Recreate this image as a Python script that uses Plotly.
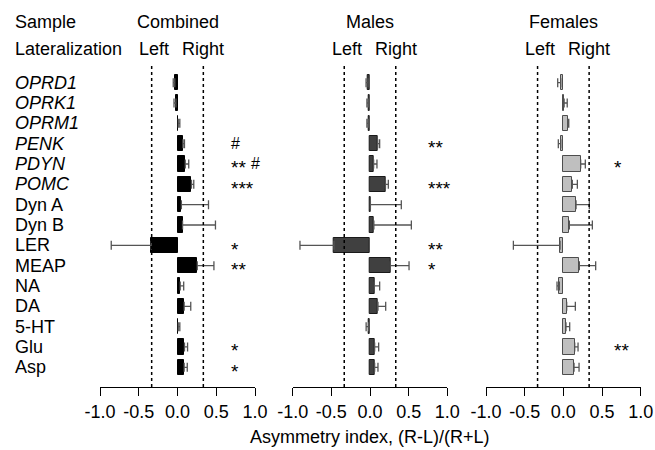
import plotly.graph_objects as go

categories = ["OPRD1", "OPRK1", "OPRM1", "PENK", "PDYN", "POMC", "Dyn A", "Dyn B",
              "LER", "MEAP", "NA", "DA", "5-HT", "Glu", "Asp"]
italic_cats = ["OPRD1", "OPRK1", "OPRM1", "PENK", "PDYN", "POMC"]

combined_val = [-0.035, -0.02, 0.01, 0.07, 0.10, 0.18, 0.05, 0.065, -0.34, 0.255, 0.035, 0.086, 0.01, 0.09, 0.086]
combined_err = [0.02, 0.025, 0.02, 0.02, 0.045, 0.03, 0.35, 0.425, 0.515, 0.215, 0.045, 0.085, 0.02, 0.04, 0.04]
males_val = [-0.026, -0.02, -0.02, 0.10, 0.047, 0.20, 0.005, 0.05, -0.466, 0.263, 0.056, 0.103, -0.017, 0.06, 0.06]
males_err = [0.025, 0.02, 0.02, 0.025, 0.043, 0.037, 0.40, 0.485, 0.44, 0.242, 0.069, 0.10, 0.033, 0.052, 0.043]
females_val = [-0.034, 0.01, 0.056, -0.034, 0.224, 0.116, 0.164, 0.078, -0.043, 0.207, -0.052, 0.043, 0.034, 0.147, 0.138]
females_err = [0.039, 0.04, 0.014, 0.031, 0.06, 0.065, 0.172, 0.297, 0.603, 0.211, 0.03, 0.112, 0.048, 0.043, 0.065]

combined_stars = ["", "", "", "", "**", "***", "", "", "*", "**", "", "", "", "*", "*"]
combined_hash = ["", "", "", "#", "#", "", "", "", "", "", "", "", "", "", ""]
males_stars = ["", "", "", "**", "", "***", "", "", "**", "*", "", "", "", "", ""]
females_stars = ["", "", "", "", "*", "", "", "", "", "", "", "", "", "**", ""]

panel_titles = ["Combined", "Males", "Females"]
tick_vals = [-1.0, -0.5, 0.0, 0.5, 1.0]
tick_text = ["-1.0", "-0.5", "0.0", "0.5", "1.0"]
threshold = 1 / 3

W, H = 655, 450
FONT = "Liberation Sans, Arial, sans-serif"
FS = 18

panels = [
    dict(vals=combined_val, errs=combined_err, fill="#000000", line="#000000",
         stars=combined_stars, hashes=combined_hash, domain=[100 / W, 255 / W], sigx=0.66),
    dict(vals=males_val, errs=males_err, fill="#404040", line="#1a1a1a",
         stars=males_stars, hashes=[""] * 15, domain=[292.7 / W, 447.3 / W], sigx=0.72),
    dict(vals=females_val, errs=females_err, fill="#bfbfbf", line="#4d4d4d",
         stars=females_stars, hashes=[""] * 15, domain=[486 / W, 640.7 / W], sigx=0.625),
]

fig = go.Figure()
ypos = list(range(len(categories)))
annotations = []
shapes = []

for i, p in enumerate(panels):
    k = "" if i == 0 else str(i + 1)
    plus = [e if v >= 0 else 0 for v, e in zip(p["vals"], p["errs"])]
    minus = [e if v < 0 else 0 for v, e in zip(p["vals"], p["errs"])]
    fig.add_trace(go.Bar(
        x=p["vals"], y=ypos, orientation="h", width=0.76,
        marker=dict(color=p["fill"], line=dict(color=p["line"], width=1)),
        error_x=dict(type="data", symmetric=False, array=plus, arrayminus=minus,
                     color="#555555", thickness=1.3, width=4.5),
        xaxis="x" + k, yaxis="y" + k, showlegend=False,
    ))
    fig.update_layout(**{
        "xaxis" + k: dict(domain=p["domain"], range=[-1, 1], anchor="y" + k, automargin=False,
                          tickvals=tick_vals, ticktext=tick_text, ticks="outside",
                          ticklen=8, tickwidth=1.3, tickcolor="#000", showline=True,
                          linecolor="#000", linewidth=1.3, showgrid=False, zeroline=False,
                          tickfont=dict(size=FS, color="#000", family=FONT), fixedrange=True),
        "yaxis" + k: dict(domain=[1 - 387 / H, 1 - 65 / H], range=[14.97, -0.87], automargin=False,
                          anchor="x" + k, visible=False, showgrid=False, zeroline=False),
    })
    xr = "x" + k
    yr = "y" + k
    for xv in (-threshold, threshold):
        shapes.append(dict(type="line", xref=xr, yref=yr + " domain", x0=xv, x1=xv, y0=0, y1=1,
                           line=dict(color="#000", width=1.5, dash="dot")))
    annotations.append(dict(text=panel_titles[i], x=0, xref=xr, y=1 - 22 / H, yref="paper",
                            showarrow=False, xanchor="center", yanchor="middle",
                            font=dict(size=FS, color="#000", family=FONT)))
    annotations.append(dict(text="Left", x=-0.30, xref=xr, y=1 - 49 / H, yref="paper",
                            showarrow=False, xanchor="center", yanchor="middle",
                            font=dict(size=FS, color="#000", family=FONT)))
    annotations.append(dict(text="Right", x=0.33, xref=xr, y=1 - 49 / H, yref="paper",
                            showarrow=False, xanchor="center", yanchor="middle",
                            font=dict(size=FS, color="#000", family=FONT)))
    for j in range(len(categories)):
        s = p["stars"][j]
        h = p["hashes"][j]
        if s:
            annotations.append(dict(text=s, x=p["sigx"], xref=xr, y=j, yref=yr, yshift=-4,
                                    showarrow=False, xanchor="left", yanchor="middle",
                                    font=dict(size=19, color="#000", family=FONT)))
        if h:
            hx = p["sigx"] + (0.06 + 0.1 * len(s) if s else 0)
            annotations.append(dict(text=h, x=hx, xref=xr, y=j, yref=yr,
                                    showarrow=False, xanchor="left", yanchor="middle",
                                    font=dict(size=16, color="#000", family=FONT)))

for j, c in enumerate(categories):
    txt = "<i>" + c + "</i>" if c in italic_cats else c
    annotations.append(dict(text=txt, x=13 / W, xref="paper", y=j, yref="y",
                            showarrow=False, xanchor="left", yanchor="middle",
                            font=dict(size=FS, color="#000", family=FONT)))

annotations.append(dict(text="Sample", x=13 / W, xref="paper", y=1 - 22 / H, yref="paper",
                        showarrow=False, xanchor="left", yanchor="middle",
                        font=dict(size=FS, color="#000", family=FONT)))
annotations.append(dict(text="Lateralization", x=13 / W, xref="paper", y=1 - 49 / H, yref="paper",
                        showarrow=False, xanchor="left", yanchor="middle",
                        font=dict(size=FS, color="#000", family=FONT)))
annotations.append(dict(text="Asymmetry index, (R-L)/(R+L)", x=370 / W, xref="paper",
                        y=1 - 437 / H, yref="paper", showarrow=False, xanchor="center",
                        yanchor="middle", font=dict(size=FS, color="#000", family=FONT)))

fig.update_layout(width=W, height=H, autosize=False, margin=dict(l=0, r=0, t=0, b=0, pad=0),
                  paper_bgcolor="#fff", plot_bgcolor="#fff", bargap=0,
                  annotations=annotations, shapes=shapes,
                  font=dict(family=FONT, size=FS, color="#000"))

fig.write_html("out.html")
